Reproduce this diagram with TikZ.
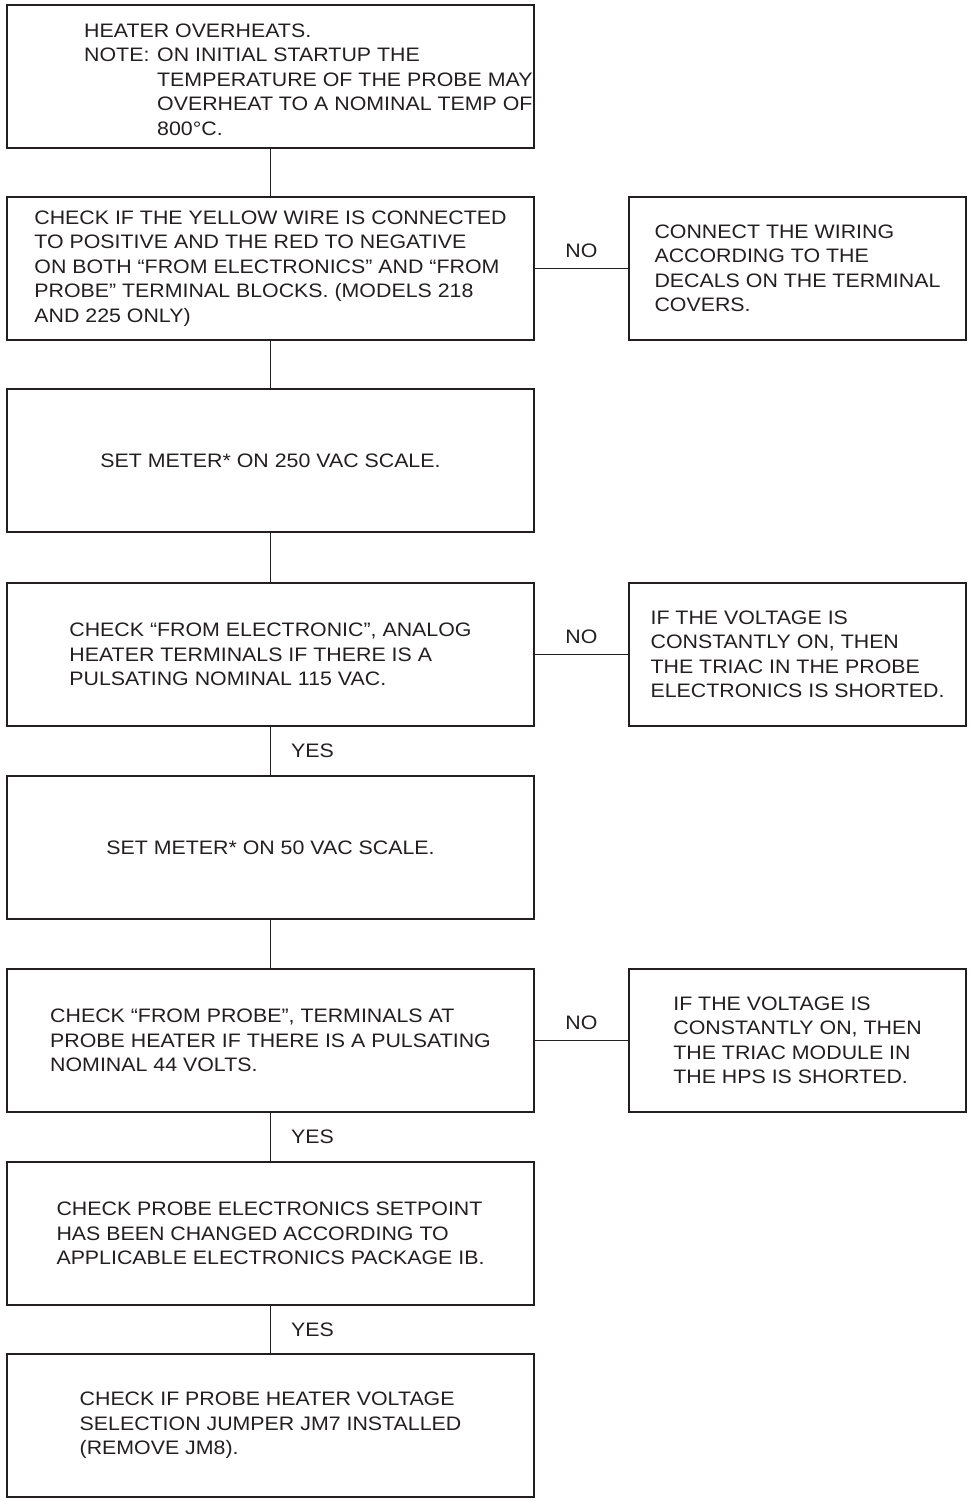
\documentclass[tikz,border=0pt]{standalone}
\usepackage{fontspec}
\setmainfont[FakeStretch=1.095]{Liberation Sans}
\usepackage{tikz}
\usetikzlibrary{positioning}
\definecolor{inkGray}{RGB}{35,31,32}
\tikzset{
  stepbox/.style={draw=inkGray, line width=1.2pt, minimum width=527pt, minimum height=143pt, inner sep=0pt, align=left, text=inkGray, font=\fontsize{19.5}{24.5}\selectfont},
  fixbox/.style={stepbox, minimum width=337pt},
  note/.style={inner sep=0pt, align=left, text=inkGray, font=\fontsize{19.5}{24.5}\selectfont},
  link/.style={draw=inkGray, line width=1.2pt},
  tag/.style={inner sep=0pt, text=inkGray, font=\fontsize{19.5}{24.5}\selectfont}
}

\begin{document}
\begin{tikzpicture}[x=1pt,y=1pt]
  \useasboundingbox (0,0) rectangle (969,-1501);

  % left column
  \node[stepbox] (overheat) at (270.5,-76.5) {};
  \node[note, anchor=north west] (overheattxt) at (84,-19.9) {%
    \begin{tabular}{@{}p{73pt}@{}l@{}}
      \multicolumn{2}{@{}l@{}}{HEATER OVERHEATS.}\\
      NOTE: & ON INITIAL STARTUP THE\\
            & TEMPERATURE OF THE PROBE MAY\\
            & OVERHEAT TO A NOMINAL TEMP OF\\
            & 800°C.
    \end{tabular}};
  \node[stepbox] (wires) at (270.5,-268.5) {CHECK IF THE YELLOW WIRE IS CONNECTED\\TO POSITIVE AND THE RED TO NEGATIVE\\ON BOTH “FROM ELECTRONICS” AND “FROM\\PROBE” TERMINAL BLOCKS. (MODELS 218\\AND 225 ONLY)};
  \node[stepbox] (meter250) at (270.5,-460.5) {SET METER* ON 250 VAC SCALE.};
  \node[stepbox] (electerm) at (270.5,-654.5) {CHECK “FROM ELECTRONIC”, ANALOG\\HEATER TERMINALS IF THERE IS A\\PULSATING NOMINAL 115 VAC.};
  \node[stepbox] (meter50) at (270.5,-847.5) {SET METER* ON 50 VAC SCALE.};
  \node[stepbox] (probeterm) at (270.5,-1040.5) {CHECK “FROM PROBE”, TERMINALS AT\\PROBE HEATER IF THERE IS A PULSATING\\NOMINAL 44 VOLTS.};
  \node[stepbox] (setpoint) at (270.5,-1233.5) {CHECK PROBE ELECTRONICS SETPOINT\\HAS BEEN CHANGED ACCORDING TO\\APPLICABLE ELECTRONICS PACKAGE IB.};
  \node[stepbox] (jumper) at (270.5,-1425.5) {CHECK IF PROBE HEATER VOLTAGE\\SELECTION JUMPER JM7 INSTALLED\\(REMOVE JM8).};

  % right column
  \node[fixbox] (rewire) at (797.5,-268.5) {CONNECT THE WIRING\\ACCORDING TO THE\\DECALS ON THE TERMINAL\\COVERS.};
  \node[fixbox] (triacprobe) at (797.5,-654.5) {IF THE VOLTAGE IS\\CONSTANTLY ON, THEN\\THE TRIAC IN THE PROBE\\ELECTRONICS IS SHORTED.};
  \node[fixbox] (triachps) at (797.5,-1040.5) {IF THE VOLTAGE IS\\CONSTANTLY ON, THEN\\THE TRIAC MODULE IN\\THE HPS IS SHORTED.};

  \draw[link] (overheat) -- (wires);
  \draw[link] (wires) -- (meter250);
  \draw[link] (meter250) -- (electerm);
  \draw[link] (electerm) -- node[tag, right=20pt]{YES} (meter50);
  \draw[link] (meter50) -- (probeterm);
  \draw[link] (probeterm) -- node[tag, right=20pt]{YES} (setpoint);
  \draw[link] (setpoint) -- node[tag, right=20pt]{YES} (jumper);

  \draw[link] (wires) -- node[tag, above=10pt]{NO} (rewire);
  \draw[link] (electerm) -- node[tag, above=10pt]{NO} (triacprobe);
  \draw[link] (probeterm) -- node[tag, above=10pt]{NO} (triachps);
\end{tikzpicture}
\end{document}
